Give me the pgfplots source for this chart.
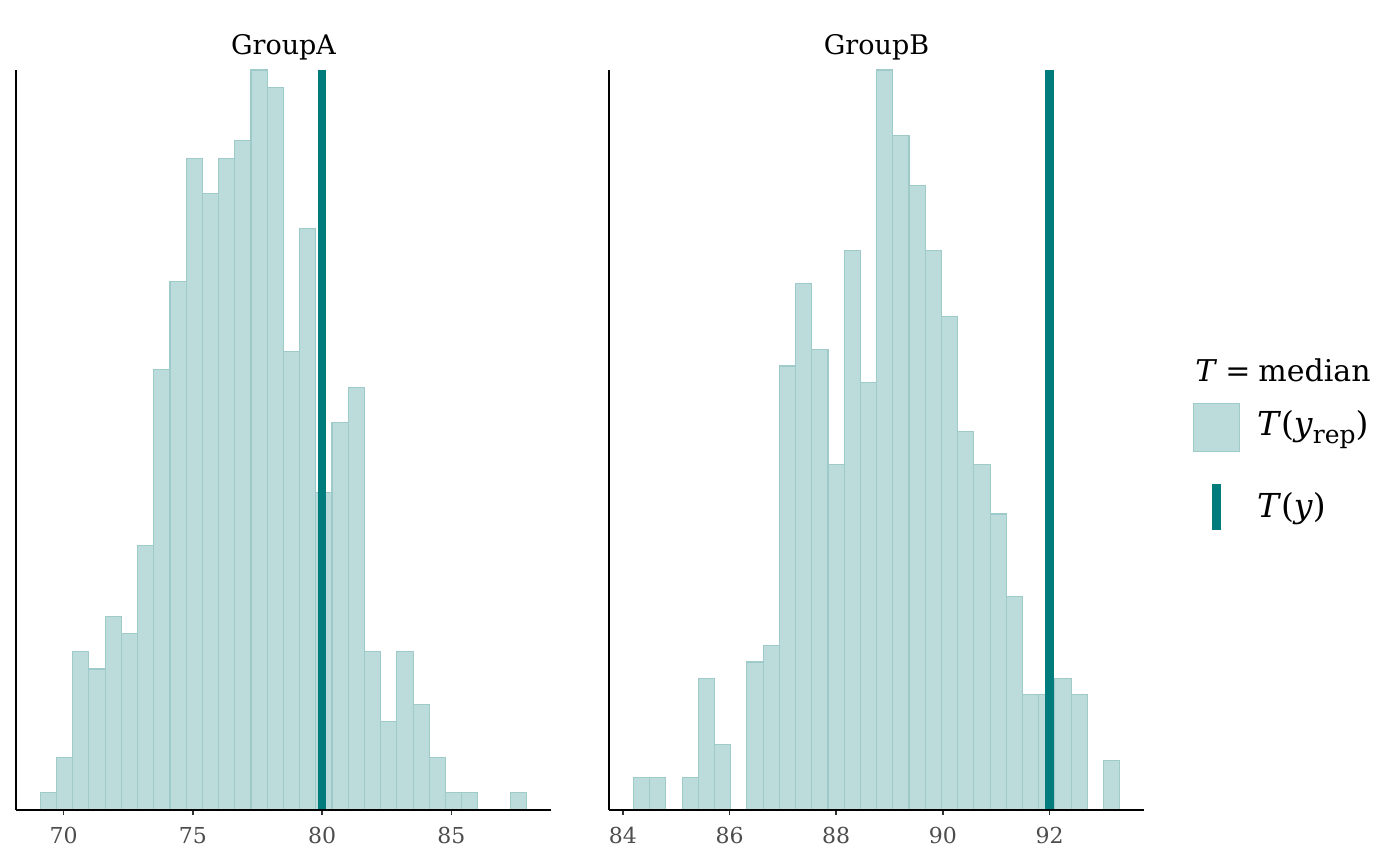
\documentclass[border=0pt]{standalone}
\usepackage{fontspec}
\setmainfont{DejaVu Serif}
\usepackage{pgfplots}
\usepackage{pgfplotstable}
\pgfplotsset{compat=1.18}
\definecolor{histfill}{HTML}{BCDCDC}
\definecolor{histline}{HTML}{9FCACA}
\definecolor{tline}{HTML}{007C7C}
\definecolor{ticktext}{HTML}{4D4D4D}

% bin left edges (last row = right edge of last bin) and counts
\pgfplotstableread{
x y
69.100 1
69.727 3
70.354 9
70.980 8
71.607 11
72.234 10
72.861 15
73.488 25
74.114 30
74.741 37
75.368 35
75.995 37
76.622 38
77.248 42
77.875 41
78.502 26
79.129 33
79.756 18
80.382 22
81.009 24
81.636 9
82.263 5
82.890 9
83.516 6
84.143 3
84.770 1
85.397 1
86.024 0
86.650 0
87.277 1
87.904 1
}\histA

\pgfplotstableread{
x y
84.198 2
84.502 2
84.806 0
85.110 2
85.414 8
85.717 4
86.021 0
86.325 9
86.629 10
86.933 27
87.237 32
87.541 28
87.845 21
88.149 34
88.452 26
88.756 45
89.060 41
89.364 38
89.668 34
89.972 30
90.276 23
90.580 21
90.884 18
91.188 13
91.491 7
91.795 7
92.099 8
92.403 7
92.707 0
93.011 3
93.314 3
}\histB

\pgfplotsset{
  facet/.style={
    scale only axis, width=267.5pt, height=370pt,
    axis x line*=bottom, axis y line*=left,
    axis line style={-, line width=1pt, black},
    ymin=0, ytick=\empty,
    tick align=outside, major tick length=2.5pt,
    x tick style={line width=0.8pt, color=black!80},
    xticklabel style={font=\fontsize{11}{13}\selectfont, text=ticktext, anchor=base, yshift=-14pt},
    /pgf/number format/assume math mode=true,
    title style={font=\fontsize{13.5}{16}\selectfont, at={(0.5,1)}, anchor=base, yshift=1.5pt},
    axis on top,
  },
  hist/.style={ybar interval, fill=histfill, draw=histline, line width=0.55pt},
  stat/.style={tline, line width=4.2pt},
}

\begin{document}
\begin{tikzpicture}
\path[use as bounding box] (0,0) rectangle (700pt,433pt);

\begin{axis}[facet, at={(8pt,28pt)}, anchor=south west,
  xmin=68.16, xmax=88.85, ymax=42, xtick={70,75,80,85}, title={GroupA}]
\addplot[hist] table[x=x,y=y] {\histA};
\addplot[stat] coordinates {(80.0,0) (80.0,42)};
\end{axis}

\begin{axis}[facet, at={(304.5pt,28pt)}, anchor=south west,
  xmin=83.74, xmax=93.77, ymax=45, xtick={84,86,88,90,92}, title={GroupB}]
\addplot[hist] table[x=x,y=y] {\histB};
\addplot[stat] coordinates {(92.0,0) (92.0,45)};
\end{axis}

% legend
\node[anchor=base west, inner sep=0, font=\fontsize{15}{18}\selectfont] at (597.5pt,242pt)
  {\textit{T}\hspace{4pt}=\hspace{4pt}median};
\path[fill=histfill, draw=histline, line width=0.5pt] (596.7pt,207.2pt) rectangle (619.5pt,231.3pt);
\node[anchor=base west, inner sep=0, font=\fontsize{16.5}{20}\selectfont] at (628.3pt,215.2pt)
  {\textit{T}(\textit{y}\raisebox{-4pt}{\fontsize{12.5}{13}\selectfont rep})};
\draw[tline, line width=4.5pt] (608pt,168pt) -- (608pt,191pt);
\node[anchor=base west, inner sep=0, font=\fontsize{16.5}{20}\selectfont] at (628.3pt,174pt)
  {\textit{T}(\textit{y})};
\end{tikzpicture}
\end{document}
